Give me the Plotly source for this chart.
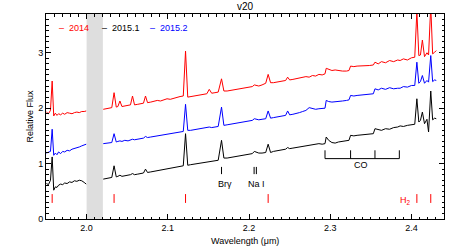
import plotly.graph_objects as go

N = None
wavelength = [
    1.9505, 1.9530, 1.9555, 1.9576, 1.9595, 1.9615, 1.9635, 1.9655, 1.9680, 1.9705,
    1.9730, 1.9760, 1.9790, 1.9820, 1.9850, 1.9880, 1.9910, 1.9940, 1.9970, 1.9995,
    2.0100,
    2.0205, 2.0240, 2.0275, 2.0310, 2.0338, 2.0365, 2.0385, 2.0410, 2.0435, 2.0470,
    2.0510, 2.0540, 2.0565, 2.0590, 2.0630, 2.0670, 2.0700, 2.0725, 2.0750, 2.0790,
    2.0830, 2.0870, 2.0910, 2.0950, 2.0990, 2.1030, 2.1070, 2.1110, 2.1150, 2.1190,
    2.1218, 2.1245, 2.1280, 2.1320, 2.1360, 2.1400, 2.1440, 2.1480, 2.1510, 2.1540,
    2.1580, 2.1620, 2.1661, 2.1690, 2.1730, 2.1770, 2.1810, 2.1850, 2.1890, 2.1930,
    2.1970, 2.2010, 2.2040, 2.2065, 2.2090, 2.2120, 2.2160, 2.2205, 2.2235, 2.2265,
    2.2300, 2.2340, 2.2380, 2.2420, 2.2450, 2.2475, 2.2500, 2.2540, 2.2580, 2.2620,
    2.2660, 2.2700, 2.2740, 2.2780, 2.2820, 2.2860, 2.2900, 2.2935, 2.2950, 2.2980,
    2.3020, 2.3060, 2.3100, 2.3150, 2.3200, 2.3230, 2.3250, 2.3290, 2.3330, 2.3380,
    2.3430, 2.3480, 2.3530, 2.3550, 2.3590, 2.3630, 2.3680, 2.3730, 2.3780, 2.3830,
    2.3860, 2.3900, 2.3950, 2.4000, 2.4040, 2.4066, 2.4090, 2.4110, 2.4134, 2.4160,
    2.4190, 2.4210, 2.4237, 2.4260, 2.4285, 2.4305,
]
flux_2014 = [
    1.93, 1.90, 1.96, 2.49, 1.86, 1.91, 1.87, 1.90, 1.88, 1.91,
    1.89, 1.92, 1.91, 1.90, 1.92, 1.93, 1.92, 1.94, 1.94, 1.95,
    N,
    1.98, 1.99, 2.01, 2.01, 2.28, 2.02, 2.03, 2.13, 2.03, 2.04,
    2.05, 2.06, 2.22, 2.06, 2.07, 2.08, 2.09, 2.22, 2.10, 2.11,
    2.12, 2.14, 2.13, 2.15, 2.17, 2.16, 2.18, 2.19, 2.21, 2.22,
    3.03, 2.20, 2.21, 2.22, 2.23, 2.24, 2.25, 2.26, 2.34, 2.27,
    2.28, 2.29, 2.53, 2.31, 2.31, 2.32, 2.33, 2.34, 2.35, 2.36,
    2.37, 2.38, 2.39, 2.42, 2.41, 2.40, 2.42, 2.45, 2.61, 2.46,
    2.46, 2.47, 2.48, 2.49, 2.50, 2.56, 2.51, 2.52, 2.53, 2.54,
    2.55, 2.57, 2.56, 2.59, 2.58, 2.61, 2.60, 2.62, 2.72, 2.70,
    2.68, 2.69, 2.68, 2.67, 2.67, 2.68, 2.76, 2.75, 2.76, 2.76,
    2.77, 2.77, 2.78, 2.83, 2.80, 2.84, 2.82, 2.86, 2.84, 2.87,
    2.86, 2.89, 2.87, 2.91, 2.92, 3.75, 2.95, 2.96, 3.23, 2.93,
    3.00, 2.96, 3.85, 2.98, 3.01, 3.04,
]
flux_2015_1 = [
    0.64, 0.62, 0.70, 1.12, 0.52, 0.58, 0.57, 0.61, 0.63, 0.62,
    0.65, 0.64, 0.67, 0.66, 0.69, 0.68, 0.70, 0.69, 0.66, 0.63,
    N,
    0.72, 0.73, 0.74, 0.75, 0.96, 0.76, 0.77, 0.79, 0.77, 0.78,
    0.79, 0.80, 0.82, 0.80, 0.81, 0.82, 0.83, 0.90, 0.84, 0.85,
    0.86, 0.87, 0.88, 0.89, 0.90, 0.91, 0.92, 0.93, 0.94, 0.96,
    1.54, 0.97, 0.98, 0.99, 1.00, 1.01, 1.02, 1.03, 1.04, 1.04,
    1.05, 1.06, 1.42, 1.10, 1.10, 1.11, 1.12, 1.13, 1.14, 1.15,
    1.16, 1.17, 1.18, 1.22, 1.21, 1.19, 1.19, 1.20, 1.35, 1.20,
    1.22, 1.23, 1.24, 1.25, 1.26, 1.29, 1.27, 1.28, 1.29, 1.30,
    1.31, 1.32, 1.33, 1.34, 1.35, 1.36, 1.35, 1.36, 1.48, 1.42,
    1.38, 1.37, 1.39, 1.40, 1.41, 1.42, 1.51, 1.50, 1.51, 1.52,
    1.53, 1.54, 1.54, 1.63, 1.61, 1.60, 1.63, 1.62, 1.65, 1.66,
    1.68, 1.67, 1.69, 1.70, 1.71, 2.17, 1.75, 1.78, 1.93, 1.72,
    1.80, 1.57, 2.31, 1.79, 1.82, 1.81,
]
flux_2015_2 = [
    1.19, 1.21, 1.22, 1.62, 1.15, 1.19, 1.16, 1.21, 1.18, 1.22,
    1.21, 1.24, 1.23, 1.26, 1.27, 1.29, 1.30, 1.32, 1.34, 1.35,
    N,
    1.36, 1.37, 1.38, 1.38, 1.54, 1.39, 1.40, 1.41, 1.40, 1.42,
    1.41, 1.43, 1.44, 1.43, 1.44, 1.45, 1.46, 1.49, 1.47, 1.48,
    1.49, 1.50, 1.51, 1.52, 1.52, 1.53, 1.54, 1.55, 1.56, 1.58,
    2.07, 1.60, 1.60, 1.61, 1.62, 1.63, 1.63, 1.64, 1.66, 1.65,
    1.66, 1.67, 2.02, 1.69, 1.70, 1.71, 1.72, 1.73, 1.74, 1.75,
    1.76, 1.77, 1.78, 1.81, 1.80, 1.79, 1.80, 1.81, 1.95, 1.82,
    1.83, 1.84, 1.85, 1.86, 1.87, 1.95, 1.88, 1.89, 1.90, 1.92,
    1.94, 1.96, 2.01, 1.99, 1.98, 1.99, 1.99, 2.00, 2.14, 2.12,
    2.11, 2.12, 2.13, 2.13, 2.14, 2.15, 2.23, 2.22, 2.23, 2.24,
    2.24, 2.25, 2.26, 2.35, 2.33, 2.36, 2.34, 2.37, 2.35, 2.36,
    2.36, 2.39, 2.38, 2.41, 2.41, 2.83, 2.45, 2.48, 2.59, 2.45,
    2.50, 2.47, 2.95, 2.48, 2.51, 2.50,
]

series_names = ["2014", "2015.1", "2015.2"]
series_colors = ["#ff0000", "#000000", "#0000ff"]
legend_x = [1.9635, 2.0165, 2.0757]

# line identifications
h2_lines = [1.9576, 2.0338, 2.1218, 2.2235, 2.4066, 2.4237]
brg_line = [2.1661]
nai_lines = [2.2062, 2.2090]
co_heads = [2.2935, 2.3250, 2.3550, 2.3850]
gap_band = [2.0, 2.02]

FONT = "Liberation Sans"

fig = go.Figure()
fig.add_shape(type="rect", xref="x", yref="paper", x0=gap_band[0], x1=gap_band[1],
              y0=0, y1=1, fillcolor="#dedede", line_width=0, layer="below")

for name, col, flux in zip(series_names, series_colors, [flux_2014, flux_2015_1, flux_2015_2]):
    fig.add_trace(go.Scatter(x=wavelength, y=flux, mode="lines", name=name,
                             line=dict(color=col, width=1), connectgaps=False,
                             showlegend=False))

# legend as text
for name, col, lx in zip(series_names, series_colors, legend_x):
    fig.add_annotation(x=lx, y=3.44, xref="x", yref="y", text="–&nbsp;&nbsp;" + name,
                       showarrow=False, xanchor="left", yanchor="middle",
                       font=dict(color=col, size=9, family=FONT))

for w in h2_lines:
    fig.add_shape(type="line", xref="x", yref="y", x0=w, x1=w, y0=0.29, y1=0.45,
                  line=dict(color="#ff0000", width=1))
for w in brg_line + nai_lines:
    fig.add_shape(type="line", xref="x", yref="y", x0=w, x1=w, y0=0.81, y1=0.94,
                  line=dict(color="#000000", width=1))
for w in co_heads:
    fig.add_shape(type="line", xref="x", yref="y", x0=w, x1=w, y0=1.09, y1=1.24,
                  line=dict(color="#000000", width=1))
fig.add_shape(type="line", xref="x", yref="y", x0=co_heads[0], x1=co_heads[-1],
              y0=1.09, y1=1.09, line=dict(color="#000000", width=1))

lab_font = dict(size=9, family=FONT, color="#000000")
fig.add_annotation(x=2.170, y=0.63, text="Brγ", showarrow=False, font=lab_font)
fig.add_annotation(x=2.2095, y=0.63, text="Na I", showarrow=False, font=lab_font)
fig.add_annotation(x=2.3376, y=0.97, text="CO", showarrow=False, font=lab_font)
fig.add_annotation(x=2.3927, y=0.33, text="H<sub>2</sub>", showarrow=False,
                   font=dict(size=9, family=FONT, color="#ff0000"))

# axis titles
fig.add_annotation(x=0.5, y=-0.106, xref="paper", yref="paper", text="Wavelength (μm)",
                   showarrow=False, xanchor="center", yanchor="middle", font=lab_font)
fig.add_annotation(x=-0.0427, y=0.5, xref="paper", yref="paper", text="Relative Flux",
                   showarrow=False, xanchor="center", yanchor="middle", textangle=-90,
                   font=lab_font)

axis_common = dict(showline=True, linecolor="#000000", linewidth=1, mirror="allticks",
                   ticks="inside", ticklen=5, tickcolor="#000000", tickwidth=1,
                   showgrid=False, zeroline=False, automargin=False,
                   tickfont=dict(size=9, family=FONT, color="#000000"))

fig.update_xaxes(range=[1.95, 2.44], tickvals=[2.0, 2.1, 2.2, 2.3, 2.4],
                 ticktext=["2.0", "2.1", "2.2", "2.3", "2.4"],
                 minor=dict(dtick=0.01, tick0=1.95, ticks="inside", ticklen=2.5,
                            tickcolor="#000000", showgrid=False),
                 **axis_common)
fig.update_yaxes(range=[0, 3.7], tickvals=[0, 1, 2, 3], ticktext=["0", "1", "2", "3"],
                 minor=dict(dtick=0.1, tick0=0, ticks="inside", ticklen=2.5,
                            tickcolor="#000000", showgrid=False),
                 **axis_common)

fig.update_layout(
    width=457, height=249,
    margin=dict(l=46, r=13, t=14, b=30),
    paper_bgcolor="#ffffff", plot_bgcolor="#ffffff",
    title=dict(text="v20", x=0.5, xref="paper", xanchor="center", y=0.972, yanchor="middle",
               font=dict(size=10, family=FONT, color="#000000")),
    showlegend=False,
)

fig.write_html("out.html", config={"displayModeBar": False},
               post_script="document.body.style.margin='0';")
